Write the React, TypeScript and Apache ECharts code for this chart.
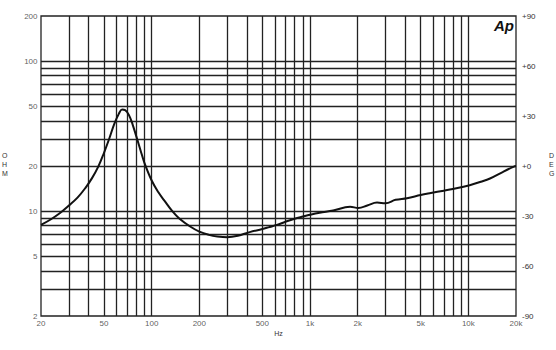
import React, { useEffect, useRef } from "react";
import * as echarts from "echarts";

const FREQ = [20, 23, 26, 30, 34, 38, 42, 46, 50, 54, 58, 62, 65, 68, 72, 76, 80, 85, 90, 100, 110, 120, 135, 150, 175, 200, 230, 260, 300, 350, 416, 500, 556, 618, 700, 800, 903, 1000, 1150, 1400, 1790, 2020, 2300, 2650, 3000, 3470, 4100, 5000, 5800, 7000, 8400, 10200, 12000, 13700, 16600, 19400, 20000];
const OHM = [8.1, 8.8, 9.6, 10.9, 12.3, 14.2, 16.6, 19.8, 24.5, 30.5, 38, 44.5, 47.6, 47.2, 43.5, 37.5, 31.5, 25.5, 21, 16, 13.4, 11.8, 10.0, 8.9, 7.9, 7.3, 6.95, 6.78, 6.7, 6.85, 7.25, 7.6, 7.85, 8.1, 8.5, 8.9, 9.2, 9.45, 9.75, 10.1, 10.7, 10.5, 10.9, 11.4, 11.3, 11.9, 12.2, 12.8, 13.2, 13.7, 14.2, 14.9, 15.7, 16.5, 18.3, 19.8, 20.0];

const X_TICKS = [20, 50, 100, 200, 500, 1000, 2000, 5000, 10000, 20000];
const X_TICK_LABELS = ["20", "50", "100", "200", "500", "1k", "2k", "5k", "10k", "20k"];
const Y_TICKS = [2, 5, 10, 20, 50, 100, 200];
const Y_TICK_LABELS = ["2", "5", "10", "20", "50", "100", "200"];
const X_GRID = [30, 40, 50, 60, 70, 80, 90, 100, 200, 300, 400, 500, 600, 700, 800, 900, 1000, 2000, 3000, 4000, 5000, 6000, 7000, 8000, 9000, 10000];
const Y_GRID = [3, 4, 5, 6, 7, 8, 9, 10, 20, 30, 40, 50, 60, 70, 80, 90, 100];

export default function App() {
  const ref = useRef<HTMLDivElement>(null);
  useEffect(() => {
    const chart = echarts.init(ref.current!, null, { renderer: "svg" });
    const labelStyle = { color: "#333", fontSize: 8, fontFamily: "Liberation Sans, Arial, sans-serif" };
    chart.setOption({
      animation: false,
      grid: { left: 41, right: 40, top: 16, bottom: 34, show: true, borderColor: "#222", borderWidth: 1.3, backgroundColor: "#fff" },
      xAxis: {
        type: "log", logBase: 10, min: 20, max: 20000,
        axisLabel: { show: false }, axisTick: { show: false }, axisLine: { show: false }, splitLine: { show: false },
        name: "Hz", nameLocation: "middle", nameGap: 14,
        nameTextStyle: { ...labelStyle, fontSize: 7 },
      },
      yAxis: [
        {
          type: "log", logBase: 10, min: 2, max: 200,
          axisLabel: { show: false }, axisTick: { show: false }, axisLine: { show: false }, splitLine: { show: false },
        },
        {
          type: "value", min: -90, max: 90, interval: 30, position: "right",
          axisLabel: { ...labelStyle, margin: 6, formatter: (v: number) => (v >= 0 ? "+" + v : "" + v) },
          axisTick: { show: false }, axisLine: { show: false }, splitLine: { show: false },
        },
      ],
      graphic: [
        { type: "text", left: 2, top: 151, style: { text: "O\nH\nM", fontSize: 7, lineHeight: 9, fill: "#333", align: "center", fontFamily: "Liberation Sans, Arial, sans-serif" } },
        { type: "text", left: 549, top: 151, style: { text: "D\nE\nG", fontSize: 7, lineHeight: 9, fill: "#333", fontFamily: "Liberation Sans, Arial, sans-serif" } },
        { type: "text", left: 494, top: 18, style: { text: "Ap", fontSize: 15, fontWeight: "bold", fontStyle: "italic", fill: "#111", fontFamily: "Liberation Sans, Arial, sans-serif" } },
      ],
      series: [
        {
          type: "line",
          data: FREQ.map((f, i) => [f, OHM[i]]),
          showSymbol: false,
          smooth: 0.4,
          lineStyle: { color: "#111", width: 2 },
          z: 5,
          markLine: {
            silent: true,
            symbol: "none",
            label: { show: false },
            lineStyle: { color: "#222", width: 1.3, type: "solid" },
            data: [
              ...X_GRID.map((v) => ({ xAxis: v })),
              ...Y_GRID.map((v) => ({ yAxis: v })),
            ],
          },
        },
        {
          type: "scatter",
          clip: false,
          symbolSize: 1,
          itemStyle: { color: "rgba(0,0,0,0)" },
          data: X_TICKS.map((f, i) => ({ value: [f, 2], name: X_TICK_LABELS[i] })),
          label: { show: true, position: "bottom", distance: 3, formatter: "{b}", ...labelStyle },
        },
        {
          type: "scatter",
          clip: false,
          symbolSize: 1,
          itemStyle: { color: "rgba(0,0,0,0)" },
          data: Y_TICKS.map((v, i) => ({ value: [20, v], name: Y_TICK_LABELS[i] })),
          label: { show: true, position: "left", distance: 3, formatter: "{b}", ...labelStyle },
        },
      ],
    });
    return () => chart.dispose();
  }, []);
  return <div ref={ref} style={{ width: 556, height: 350, position: "absolute", left: 0, top: 0 }} />;
}
